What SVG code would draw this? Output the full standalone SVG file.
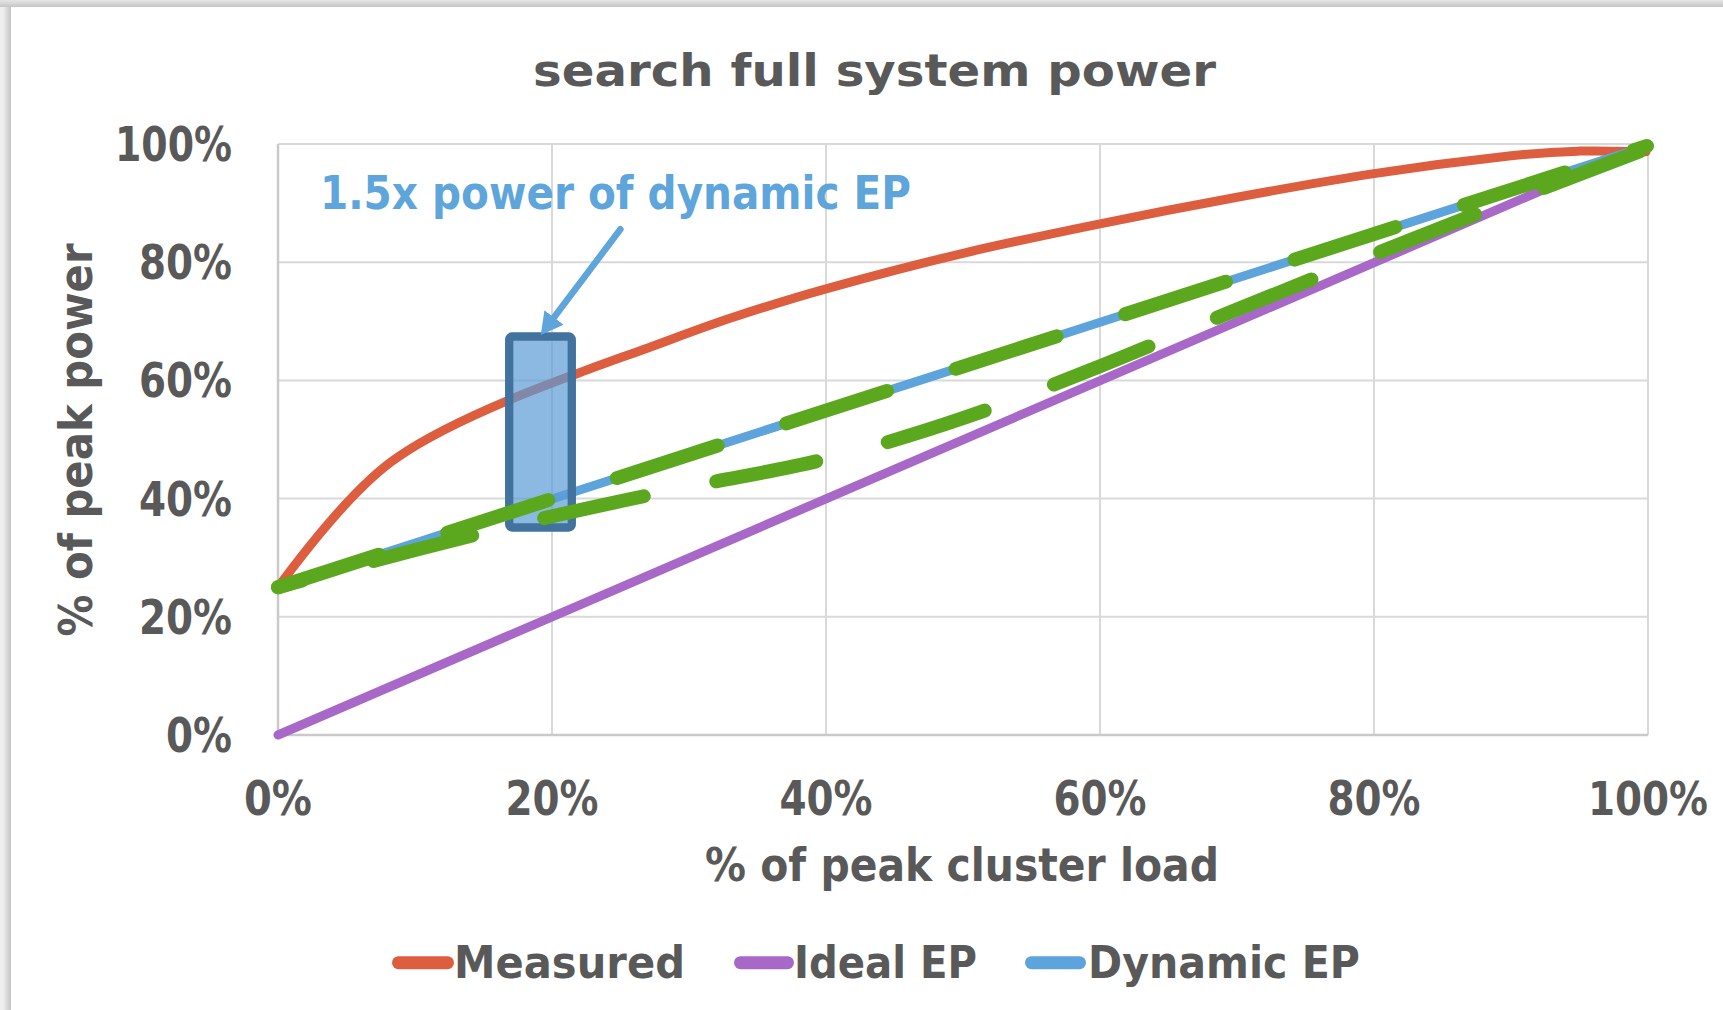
<svg xmlns="http://www.w3.org/2000/svg" width="1723" height="1010" viewBox="0 0 1723 1010">
  <defs>
    <style>
      text { font-family: "DejaVu Sans", "Liberation Sans", sans-serif; font-weight: bold; fill: #595959; }
      .title { font-size: 45px; }
      .tick { font-size: 48px; }
      .axt { font-size: 46px; }
      .leg { font-size: 45px; }
      .note { font-size: 46px; fill: #5DA5DA; }
      .grid { stroke: #D9D9D9; stroke-width: 2; fill: none; }
      .axis { stroke: #C9C9C9; stroke-width: 2.5; fill: none; }
      .series { fill: none; stroke-width: 9; stroke-linecap: round; stroke-linejoin: round; }
      .measured { stroke: #DD5D3F; }
      .ideal { stroke: #A868C8; }
      .dynamic { stroke: #5DA3DC; }
      .green-dash { fill: none; stroke: #5BA81F; stroke-width: 14; stroke-linecap: round; stroke-linejoin: round; }
      .swatch { stroke-width: 13; stroke-linecap: round; }
    </style>
    <linearGradient id="topShade" x1="0" y1="0" x2="0" y2="1">
      <stop offset="0" stop-color="#E6E6E6"/>
      <stop offset="1" stop-color="#C6C6C6"/>
    </linearGradient>
    <linearGradient id="leftShade" x1="0" y1="0" x2="1" y2="0">
      <stop offset="0" stop-color="#EFEFEF"/>
      <stop offset="1" stop-color="#C4C4C4"/>
    </linearGradient>
    <marker id="arrowHead" markerUnits="userSpaceOnUse" markerWidth="24" markerHeight="26" refX="8" refY="12" orient="auto">
      <path d="M0,0 L22,12 L0,24 Z" fill="#5DA5DA"/>
    </marker>
  </defs>

  <!-- page and chart panel -->
  <g id="background">
    <rect x="0" y="0" width="1723" height="1010" fill="#EFEFEF"/>
    <rect x="0" y="0" width="1723" height="7" fill="url(#topShade)"/>
    <rect x="3" y="7" width="8" height="1003" fill="url(#leftShade)"/>
    <rect x="11" y="7" width="1712" height="1003" fill="#FFFFFF"/>
  </g>

  <!-- gridlines and axes -->
  <g id="plot-grid">
    <path class="grid" d="M278,144 H1648 M278,262.2 H1648 M278,380.4 H1648 M278,498.6 H1648 M278,616.8 H1648"/>
    <path class="grid" d="M552,144 V735 M826,144 V735 M1100,144 V735 M1374,144 V735 M1648,144 V735"/>
    <path class="axis" d="M278,144 V735 H1648"/>
  </g>

  <!-- chart title -->
  <text id="chart-title" class="title" x="533" y="86" textLength="683" lengthAdjust="spacingAndGlyphs">search full system power</text>

  <!-- value axis labels -->
  <g id="y-axis-labels" text-anchor="end">
    <text class="tick" x="232" y="161" textLength="117" lengthAdjust="spacingAndGlyphs">100%</text>
    <text class="tick" x="232" y="279" textLength="93" lengthAdjust="spacingAndGlyphs">80%</text>
    <text class="tick" x="232" y="397.4" textLength="93" lengthAdjust="spacingAndGlyphs">60%</text>
    <text class="tick" x="232" y="515.6" textLength="93" lengthAdjust="spacingAndGlyphs">40%</text>
    <text class="tick" x="232" y="633.8" textLength="93" lengthAdjust="spacingAndGlyphs">20%</text>
    <text class="tick" x="232" y="752" textLength="66" lengthAdjust="spacingAndGlyphs">0%</text>
  </g>

  <!-- category axis labels -->
  <g id="x-axis-labels" text-anchor="middle">
    <text class="tick" x="278" y="815" textLength="68" lengthAdjust="spacingAndGlyphs">0%</text>
    <text class="tick" x="552" y="815" textLength="93" lengthAdjust="spacingAndGlyphs">20%</text>
    <text class="tick" x="826" y="815" textLength="93" lengthAdjust="spacingAndGlyphs">40%</text>
    <text class="tick" x="1100" y="815" textLength="93" lengthAdjust="spacingAndGlyphs">60%</text>
    <text class="tick" x="1374" y="815" textLength="93" lengthAdjust="spacingAndGlyphs">80%</text>
    <text class="tick" x="1708" y="815" text-anchor="end" style="font-size:46px" textLength="120" lengthAdjust="spacingAndGlyphs">100%</text>
  </g>

  <!-- axis titles -->
  <g id="axis-titles" text-anchor="middle">
    <text class="axt" transform="translate(92,440) rotate(-90)" x="0" y="0" textLength="393" lengthAdjust="spacingAndGlyphs">% of peak power</text>
    <text class="axt" x="962" y="881" textLength="514" lengthAdjust="spacingAndGlyphs">% of peak cluster load</text>
  </g>

  <!-- data series -->
  <g id="series">
    <path id="series-measured" class="series measured" d="M278,587.25 C316,536 362,481 398,457 C437,430.1 488.07,408.95 510.9,399.3 C533.73,389.65 556.57,381.27 579.4,372.7 C602.23,364.13 622.78,356.97 647.9,347.9 C673.02,338.83 700.42,328.15 730.1,318.3 C759.78,308.45 787.18,299.63 826,288.8 C864.82,277.97 917.33,264.13 963,253.3 C1008.67,242.47 1054.33,233.15 1100,223.8 C1145.67,214.45 1191.33,205.57 1237,197.2 C1282.67,188.83 1328.33,180.5 1374,173.6 C1419.67,166.7 1476.75,159.55 1511,155.8 C1545.25,152.05 1556.67,151.78 1579.5,151.1 C1602.33,150.42 1634.58,151.6 1646,151.7"/>
    <path id="series-ideal" class="series ideal" d="M278,735 L1647,145"/>
    <path id="series-dynamic" class="series dynamic" d="M278,587.25 L1647,146"/>
  </g>

  <!-- highlighted gap at 20% load -->
  <g id="highlight-box">
    <rect x="509.2" y="336.5" width="62.6" height="191" rx="3" fill="#5B9BD5" fill-opacity="0.7" stroke="#41739E" stroke-width="8.3"/>
  </g>

  <!-- hand-drawn dashed traces -->
  <g id="dashed-traces">
    <path id="trace-upper" class="green-dash" stroke-dasharray="106 72" d="M278,587.25 L1647,146"/>
    <path id="trace-lower" class="green-dash" stroke-dasharray="102 74" stroke-dashoffset="77" d="M278,587.25 C300.83,581.04 369.33,561.83 415,550 C460.67,538.17 506.33,526.83 552,516.3 C597.67,505.77 643.33,496.35 689,486.8 C734.67,477.25 780.33,470.43 826,459 C871.67,447.57 917.33,433.67 963,418.2 C1008.67,402.73 1054.33,384.32 1100,366.2 C1145.67,348.08 1191.33,328.12 1237,309.5 C1282.67,290.88 1328.33,272.67 1374,254.5 C1419.67,236.33 1465.67,218.08 1511,200.5 C1556.33,182.92 1623.5,157.58 1646,149"/>
  </g>

  <!-- callout -->
  <g id="callout">
    <text class="note" x="320" y="209" textLength="591" lengthAdjust="spacingAndGlyphs">1.5x power of dynamic EP</text>
    <line x1="620.4" y1="229.3" x2="549.2" y2="323.8" stroke="#5DA5DA" stroke-width="6.5" stroke-linecap="round" marker-end="url(#arrowHead)"/>
  </g>

  <!-- legend -->
  <g id="legend">
    <line class="swatch measured" x1="398.5" y1="962.7" x2="447.5" y2="962.7"/>
    <text class="leg" x="454" y="978" textLength="231" lengthAdjust="spacingAndGlyphs">Measured</text>
    <line class="swatch ideal" x1="740.5" y1="962.7" x2="787.5" y2="962.7"/>
    <text class="leg" x="794" y="978" textLength="183" lengthAdjust="spacingAndGlyphs">Ideal EP</text>
    <line class="swatch dynamic" x1="1031.5" y1="962.7" x2="1079.5" y2="962.7"/>
    <text class="leg" x="1088" y="978" textLength="272" lengthAdjust="spacingAndGlyphs">Dynamic EP</text>
  </g>
</svg>
